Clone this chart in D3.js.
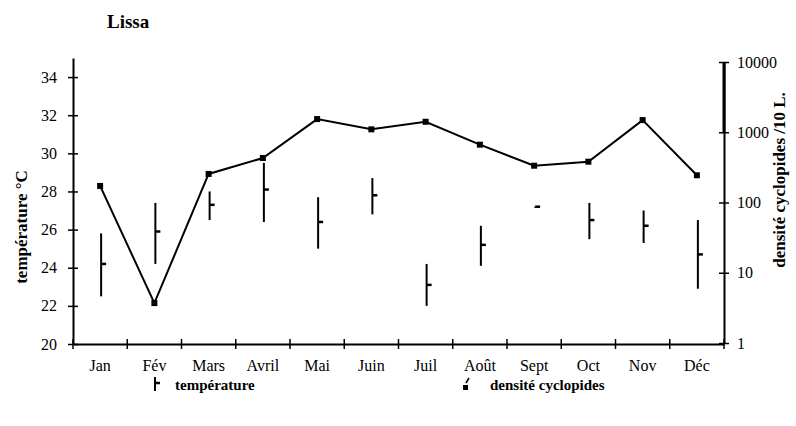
<!DOCTYPE html>
<html>
<head>
<meta charset="utf-8">
<script src="https://cdn.jsdelivr.net/npm/d3@7"></script>
<style>
  body { margin:0; background:#fff; }
  text { font-family:"Liberation Serif","Times New Roman",serif; fill:#000; }
  .bold { font-weight:bold; }
</style>
</head>
<body>
<svg id="svg1" width="796" height="426"></svg>
<script>
var months = ["Jan","Fév","Mars","Avril","Mai","Juin","Juil","Août","Sept","Oct","Nov","Déc"]
// temperature: min / max / mean (°C)
var tempMin  = [22.5, 24.2, 26.5, 26.4, 25.0, 26.8, 22.0, 24.1, 27.15, 25.5, 25.3, 22.9]
var tempMax  = [25.8, 27.4, 28.0, 29.5, 27.7, 28.7, 24.2, 26.2, 27.2, 27.4, 27.0, 26.5]
var tempMean = [24.2, 25.9, 27.3, 28.1, 26.4, 27.8, 23.1, 25.2, 27.2, 26.5, 26.2, 24.7]
// densite cyclopides /10 L
var density  = [172, 3.7, 255, 430, 1540, 1100, 1410, 665, 334, 381, 1490, 244]
var tempTicks = [20,22,24,26,28,30,32,34]
var densTicks = [1,10,100,1000,10000]

var svg = d3.select("#svg1")
var left = 73, right = 724, bottom = 344

var x = d3.scaleBand().domain(months).range([left, right])
var yT = d3.scaleLinear().domain([20, 35]).range([bottom, 58])
var yD = d3.scaleLog().domain([1, 10000]).range([343, 62])

var g = svg.append("g")

// title
svg.append("text").attr("class","bold").attr("x",107).attr("y",28)
  .style("font-size","19px").text("Lissa")

// left axis
var axL = g.append("g").attr("transform","translate(" + left + ",0)")
  .call(d3.axisLeft(yT).tickValues(tempTicks).tickSize(5).tickSizeOuter(0).tickPadding(11))
axL.selectAll(".tick line").attr("x2",5).attr("x1",-5).attr("stroke-width",1.5)
axL.select(".domain").attr("stroke-width",2)
axL.selectAll("text").style("font-size","16px").style("font-family","Liberation Serif")

// right axis
var axR = g.append("g").attr("transform","translate(" + right + ",0)")
  .call(d3.axisRight(yD).tickValues(densTicks).tickFormat(d3.format("d")).tickSize(5).tickSizeOuter(0).tickPadding(8))
axR.selectAll(".tick line").attr("x1",-5).attr("x2",5).attr("stroke-width",1.5)
axR.select(".domain").attr("stroke-width",2)
axR.selectAll("text").style("font-size","16px").style("font-family","Liberation Serif")
// thicker upper part like the original
g.append("line").attr("x1",right).attr("x2",right)
  .attr("y1",yD(10000)).attr("y2",yD(1000)).attr("stroke","#000").attr("stroke-width",3)

// bottom axis, ticks between months
var axB = g.append("g").attr("transform","translate(0," + bottom + ")")
  .call(d3.axisBottom(x).tickSize(0).tickPadding(16))
axB.select(".domain").attr("stroke-width",2)
axB.selectAll("text").style("font-size","16px").style("font-family","Liberation Serif")
var bounds = months.map(function(m){ return x(m) }).concat([right])
g.selectAll(".xtick").data(bounds).enter().append("line")
  .attr("x1",function(d){ return d }).attr("x2",function(d){ return d })
  .attr("y1",bottom-5).attr("y2",bottom+5)
  .attr("stroke","#000").attr("stroke-width",1.5)

// axis titles
svg.append("text").attr("class","bold")
  .attr("transform","translate(27,227) rotate(-90)")
  .attr("text-anchor","middle").style("font-size","17px").text("température °C")
svg.append("text").attr("class","bold")
  .attr("transform","translate(785,180) rotate(-90)")
  .attr("text-anchor","middle").style("font-size","17px").text("densité cyclopides /10 L.")

var cx = function(i){ return x(months[i]) + x.bandwidth()/2 }

// temperature bars
var bars = g.selectAll(".bar").data(months).enter().append("g")
bars.append("line")
  .attr("x1",function(d,i){ return cx(i)+1 }).attr("x2",function(d,i){ return cx(i)+1 })
  .attr("y1",function(d,i){ return yT(tempMax[i]) })
  .attr("y2",function(d,i){ return Math.max(yT(tempMin[i]), yT(tempMax[i])+1) })
  .attr("stroke","#000").attr("stroke-width",2)
bars.append("line")
  .attr("x1",function(d,i){ return cx(i)+1 }).attr("x2",function(d,i){ return cx(i)+6 })
  .attr("y1",function(d,i){ return yT(tempMean[i]) })
  .attr("y2",function(d,i){ return yT(tempMean[i]) })
  .attr("stroke","#000").attr("stroke-width",2.5)

// density line
var line = d3.line()
  .x(function(d,i){ return cx(i) })
  .y(function(d){ return yD(d) })
g.append("path").datum(density).attr("d",line)
  .attr("fill","none").attr("stroke","#000").attr("stroke-width",2)
g.selectAll(".pt").data(density).enter().append("rect")
  .attr("x",function(d,i){ return cx(i)-3 })
  .attr("y",function(d){ return yD(d)-3 })
  .attr("width",6).attr("height",6).attr("fill","#000")

// legend
var lg = svg.append("g")
lg.append("line").attr("x1",155).attr("x2",155).attr("y1",377).attr("y2",391)
  .attr("stroke","#000").attr("stroke-width",2)
lg.append("line").attr("x1",155).attr("x2",160).attr("y1",383).attr("y2",383)
  .attr("stroke","#000").attr("stroke-width",2.5)
lg.append("text").attr("class","bold").attr("x",175).attr("y",390)
  .style("font-size","15px").text("température")
lg.append("rect").attr("x",463).attr("y",385).attr("width",5).attr("height",5).attr("fill","#000")
lg.append("line").attr("x1",466).attr("x2",469).attr("y1",383).attr("y2",378)
  .attr("stroke","#000").attr("stroke-width",1.5)
lg.append("text").attr("class","bold").attr("x",490).attr("y",390)
  .style("font-size","15px").text("densité cyclopides")
</script>
</body>
</html>
